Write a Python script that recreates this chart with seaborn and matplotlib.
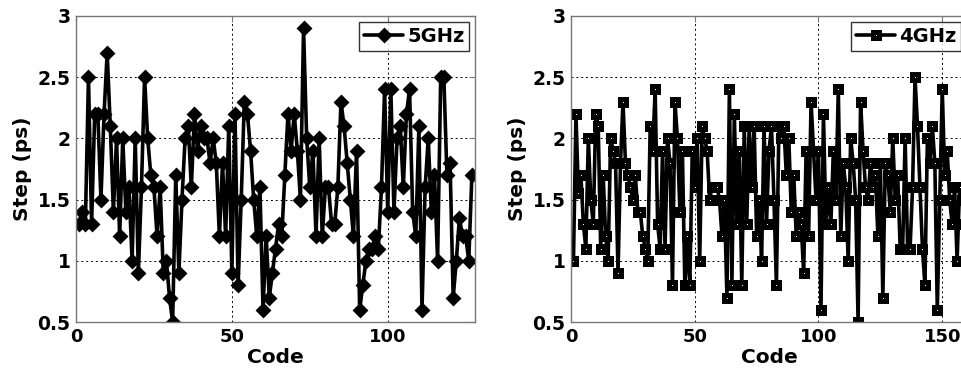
import numpy as np
import pandas as pd
import matplotlib
matplotlib.use('Agg')
import matplotlib.pyplot as plt
import seaborn as sns

# Step size per code, 5 GHz run (codes 1..127)
step_5ghz = [1.3, 1.4, 1.3, 2.5, 1.3, 2.2, 2.2, 1.5, 2.2, 2.7,
             2.1, 1.4, 2.0, 1.2, 2.0, 1.4, 1.6, 1.0, 2.0, 0.9,
             1.6, 2.5, 2.0, 1.7, 1.6, 1.2, 1.6, 0.9, 1.0, 0.7,
             0.5, 1.7, 0.9, 1.5, 2.0, 2.1, 1.6, 2.2, 1.9, 2.1,
             2.0, 2.0, 1.8, 2.0, 1.8, 1.2, 1.8, 1.2, 2.1, 0.9,
             2.2, 0.8, 1.5, 2.3, 2.2, 1.9, 1.5, 1.2, 1.6, 0.6,
             1.2, 0.7, 0.9, 1.1, 1.3, 1.2, 1.7, 2.2, 1.9, 2.2,
             1.9, 1.5, 2.9, 2.0, 1.6, 1.9, 1.2, 2.0, 1.2, 1.6,
             1.6, 1.3, 1.3, 1.6, 2.3, 2.1, 1.8, 1.5, 1.2, 1.9,
             0.6, 0.8, 1.0, 1.1, 1.1, 1.2, 1.1, 1.6, 2.4, 1.4,
             2.4, 1.4, 2.0, 2.1, 1.6, 2.2, 2.4, 1.4, 1.2, 2.1,
             0.6, 1.6, 2.0, 1.4, 1.7, 1.0, 2.5, 2.5, 1.7, 1.8,
             0.7, 1.0, 1.35, 1.2, 1.2, 1.0, 1.7]
code_5ghz = list(range(1, len(step_5ghz) + 1))

# Step size per code, 4 GHz run (codes 1..160)
step_4ghz = [1.0, 2.2, 1.55, 1.7, 1.3, 1.1, 2.0, 1.5, 1.3, 2.2,
             2.1, 1.1, 1.7, 1.2, 1.0, 2.0, 1.9, 1.8, 0.9, 1.8,
             2.3, 1.8, 1.7, 1.6, 1.5, 1.7, 1.4, 1.4, 1.2, 1.1,
             1.0, 2.1, 1.9, 2.4, 1.3, 1.1, 1.9, 1.1, 2.0, 1.8,
             0.8, 2.3, 2.0, 1.4, 1.9, 0.8, 1.2, 0.8, 1.9, 1.6,
             2.0, 1.0, 2.1, 2.0, 1.9, 1.5, 1.6, 1.6, 1.6, 1.5,
             1.2, 1.5, 0.7, 2.4, 0.8, 2.2, 1.3, 1.9, 0.8, 2.1,
             1.3, 2.1, 1.6, 2.1, 1.2, 1.5, 1.0, 2.1, 1.3, 1.9,
             2.1, 1.5, 0.8, 2.1, 2.0, 2.1, 1.7, 2.0, 1.4, 1.7,
             1.2, 1.4, 1.3, 0.9, 1.9, 1.2, 2.3, 1.9, 1.5, 1.9,
             0.6, 2.2, 1.3, 1.6, 1.3, 1.9, 1.5, 2.4, 1.2, 1.8,
             1.6, 1.0, 2.0, 1.8, 1.5, 0.5, 2.3, 1.9, 1.6, 1.5,
             1.8, 1.6, 1.7, 1.2, 1.8, 0.7, 1.8, 1.7, 1.4, 2.0,
             1.5, 1.7, 1.1, 1.1, 2.0, 1.1, 1.1, 1.6, 2.5, 2.1,
             1.6, 1.1, 0.8, 2.0, 1.8, 2.1, 1.8, 0.6, 1.5, 2.4,
             1.7, 1.9, 1.5, 1.3, 1.6, 1.0, 1.6, 1.5, 1.3, 1.6]
code_4ghz = list(range(1, len(step_4ghz) + 1))

yticks = [0.5, 1, 1.5, 2, 2.5, 3]
yticklabels = ['0.5', '1', '1.5', '2', '2.5', '3']
xticks = [0, 50, 100, 150]

sns.set_style('white')
plt.rcParams['font.family'] = ['DejaVu Sans']
plt.rcParams['font.weight'] = 'bold'
plt.rcParams['text.color'] = 'black'
plt.rcParams['axes.labelcolor'] = 'black'
plt.rcParams['xtick.labelcolor'] = 'black'
plt.rcParams['ytick.labelcolor'] = 'black'

fig = plt.figure(figsize=(9.62, 3.76), dpi=100)
ax1 = fig.add_axes([76/962, 54/376, 399/962, 306/376])
ax2 = fig.add_axes([571/962, 54/376, 396/962, 306/376])

df5 = pd.DataFrame({'Code': code_5ghz, 'Step': step_5ghz})
df4 = pd.DataFrame({'Code': code_4ghz, 'Step': step_4ghz})

sns.lineplot(data=df5, x='Code', y='Step', ax=ax1, color='k', lw=2.6,
             marker='D', ms=6, mfc='k', mec='k', mew=2.0,
             estimator=None, sort=False, label='5GHz')
sns.lineplot(data=df4, x='Code', y='Step', ax=ax2, color='k', lw=2.6,
             marker='s', ms=4.2, mfc='white', mec='k', mew=3.6,
             estimator=None, sort=False, label='4GHz')

for ax, xmax in [(ax1, 128), (ax2, 160)]:
    ax.set_xlim(0, xmax)
    ax.set_ylim(0.5, 3)
    ax.set_xticks([t for t in xticks if t <= xmax])
    ax.set_yticks(yticks)
    ax.set_yticklabels(yticklabels)
    ax.grid(True, color='k', linestyle=(0, (2, 3)), linewidth=0.7)
    ax.set_axisbelow(True)
    for s in ax.spines.values():
        s.set_color('#777777')
        s.set_linewidth(1.0)
    ax.tick_params(direction='in', length=4, color='#777777',
                   labelsize=13, pad=4, top=True, right=True)
    ax.tick_params(axis='y', labelsize=13.5)
    for lab in ax.get_xticklabels() + ax.get_yticklabels():
        lab.set_fontweight('bold')
    ax.set_xlabel('Code', fontsize=14.5, fontweight='bold', labelpad=2)
    ax.set_ylabel('Step (ps)', fontsize=14.5, fontweight='bold', labelpad=4)
    leg = ax.legend(loc='upper right', fontsize=14, frameon=True,
                    fancybox=False, handlelength=2.0, handletextpad=0.2,
                    borderpad=0.25, borderaxespad=0.3)
    leg.get_frame().set_edgecolor('k')
    leg.get_frame().set_linewidth(1.0)
    for t in leg.get_texts():
        t.set_fontweight('bold')

fig.savefig('out.png', dpi=100)
